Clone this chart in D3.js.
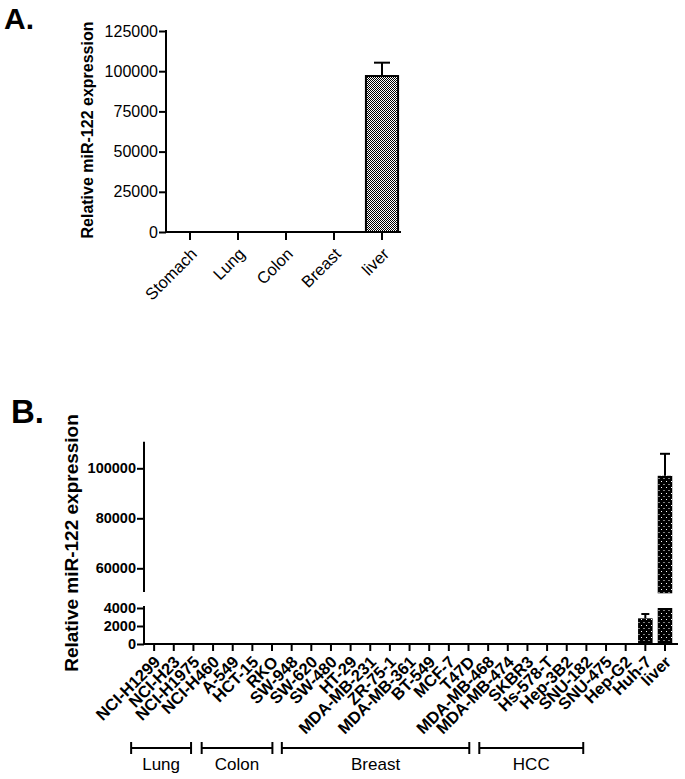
<!DOCTYPE html>
<html><head><meta charset="utf-8">
<script src="https://cdn.jsdelivr.net/npm/d3@7"></script>
<style>
body{margin:0;background:#fff;}
svg{display:block;font-family:"Liberation Sans",Arial,sans-serif;}
</style></head>
<body><svg id="c" width="685" height="779"></svg>
<script>
// ---- Panel A data ----
const tissuesA = ["Stomach","Lung","Colon","Breast","liver"];
const meanA = [0,0,0,0,97000];
const errA = [0,0,0,0,8300];
const ticksA = [0,25000,50000,75000,100000,125000];

// ---- Panel B data ----
const cellsB = ["NCI-H1299","NCI-H23","NCI-H1975","NCI-H460","A-549","HCT-15","RKO","SW-948","SW-620","SW-480","HT-29","MDA-MB-231","ZR-75-1","MDA-MB-361","BT-549","MCF-7","T47D","MDA-MB-468","MDA-MB-474","SKBR3","Hs-578-T","Hep-3B2","SNU-182","SNU-475","Hep-G2","Huh-7","liver"];
const meanB = [0,0,0,0,0,0,0,0,0,0,0,0,0,0,0,0,0,0,0,0,0,0,0,0,0,2850,97000];
const errB  = [0,0,0,0,0,0,0,0,0,0,0,0,0,0,0,0,0,0,0,0,0,0,0,0,0,480,8800];
const ticksBLow = [0,2000,4000];
const ticksBUp = [60000,80000,100000];
const groupNames = ["Lung","Colon","Breast","HCC"];
const groupFrom = [-1.17,2.42,6.5,16.55];   // in category-step units
const groupTo   = [1.88,6.02,16.04,21.84];

const svg = d3.select("#c");
const defs = svg.append("defs");
const pA = defs.append("pattern").attr("id","chk").attr("patternUnits","userSpaceOnUse").attr("width",2).attr("height",2);
pA.append("rect").attr("width",2).attr("height",2).attr("fill","#fff");
pA.append("rect").attr("width",1).attr("height",1).attr("fill","#000");
pA.append("rect").attr("x",1).attr("y",1).attr("width",1).attr("height",1).attr("fill","#000");
const pB = defs.append("pattern").attr("id","dot").attr("patternUnits","userSpaceOnUse").attr("width",5).attr("height",6);
pB.append("rect").attr("width",5).attr("height",6).attr("fill","#000");
pB.append("rect").attr("x",1).attr("y",1).attr("width",1).attr("height",1).attr("fill","#fff");
pB.append("rect").attr("x",3.5).attr("y",4).attr("width",1).attr("height",1).attr("fill","#fff");

// ================= Panel A =================
svg.append("text").attr("x",4).attr("y",29).attr("font-size",30).attr("font-weight","bold").text("A.");
const xA = d3.scaleBand().domain(tissuesA).range([166,406]).paddingInner(0.33).paddingOuter(0.165);
const yA = d3.scaleLinear().domain([0,125000]).range([232,31]);
const gA = svg.append("g");
gA.selectAll("rect.bar").data(tissuesA).join("rect")
  .attr("x",d=>xA(d)).attr("width",xA.bandwidth())
  .attr("y",(d,i)=>yA(meanA[i])).attr("height",(d,i)=>yA(0)-yA(meanA[i]))
  .attr("fill","url(#chk)").attr("stroke","#000").attr("stroke-width",(d,i)=>meanA[i]>0?2:0);
tissuesA.forEach((d,i)=>{
  if(errA[i]<=0) return;
  const cx = xA(d)+xA.bandwidth()/2;
  gA.append("line").attr("x1",cx).attr("x2",cx).attr("y1",yA(meanA[i])).attr("y2",yA(meanA[i]+errA[i])).attr("stroke","#000").attr("stroke-width",2);
  gA.append("line").attr("x1",cx-8).attr("x2",cx+8).attr("y1",yA(meanA[i]+errA[i])).attr("y2",yA(meanA[i]+errA[i])).attr("stroke","#000").attr("stroke-width",2);
});
const axA = d3.axisLeft(yA).tickValues(ticksA).tickSize(7).tickFormat(d3.format("d"));
const gyA = svg.append("g").attr("transform","translate(166,0)").call(axA);
gyA.select(".domain").attr("stroke-width",2).attr("d","M0,30V233");
gyA.selectAll(".tick line").attr("stroke-width",2);
gyA.selectAll(".tick text").attr("font-size",16).attr("fill","#000").attr("x",-8).attr("font-family","Liberation Sans,Arial,sans-serif");
const axXA = d3.axisBottom(xA).tickSize(8).tickFormat("");
const gxA = svg.append("g").attr("transform","translate(0,232)").call(axXA);
gxA.select(".domain").attr("stroke-width",2).attr("d","M165,0H401");
gxA.selectAll(".tick line").attr("stroke-width",2);
svg.append("g").selectAll("text").data(tissuesA).join("text")
  .attr("transform",d=>`translate(${xA(d)+xA.bandwidth()/2+4},${251}) rotate(-45)`)
  .attr("text-anchor","end").attr("dy","0.35em").attr("font-size",16.5).text(d=>d);
svg.append("text").attr("transform","translate(93,130) rotate(-90)").attr("text-anchor","middle")
  .attr("font-size",16).attr("font-weight","bold").text("Relative miR-122 expression");

// ================= Panel B =================
svg.append("text").attr("x",11).attr("y",423).attr("font-size",33).attr("font-weight","bold").text("B.");
const xB = d3.scaleBand().domain(cellsB).range([144.3,674.8]).paddingInner(0.26).paddingOuter(0.13);
const yUp = d3.scaleLinear().domain([50000,110000]).range([593.3,443.3]);
const yLo = d3.scaleLinear().domain([0,4000]).range([644,608]);
const gB = svg.append("g");
gB.selectAll("rect.lo").data(cellsB).join("rect").attr("class","lo")
  .attr("x",d=>xB(d)).attr("width",xB.bandwidth())
  .attr("y",(d,i)=>yLo(Math.min(meanB[i],4000))).attr("height",(d,i)=>yLo(0)-yLo(Math.min(meanB[i],4000)))
  .attr("fill","url(#dot)");
gB.selectAll("rect.up").data(cellsB.filter((d,i)=>meanB[i]>50000)).join("rect").attr("class","up")
  .attr("x",d=>xB(d)).attr("width",xB.bandwidth())
  .attr("y",d=>yUp(meanB[cellsB.indexOf(d)])).attr("height",d=>yUp(50000)-yUp(meanB[cellsB.indexOf(d)]))
  .attr("fill","url(#dot)");
cellsB.forEach((d,i)=>{
  if(errB[i]<=0) return;
  const cx = xB(d)+xB.bandwidth()/2;
  const sc = meanB[i]>50000 ? yUp : yLo;
  const top = sc(meanB[i]+errB[i]);
  const w = meanB[i]>50000 ? 5 : 4;
  gB.append("line").attr("x1",cx).attr("x2",cx).attr("y1",sc(meanB[i])).attr("y2",top).attr("stroke","#000").attr("stroke-width",2);
  gB.append("line").attr("x1",cx-w).attr("x2",cx+w).attr("y1",top).attr("y2",top).attr("stroke","#000").attr("stroke-width",2);
});
const gyUp = svg.append("g").attr("transform","translate(144,0)").call(d3.axisLeft(yUp).tickValues(ticksBUp).tickSize(7).tickFormat(d3.format("d")));
gyUp.select(".domain").attr("stroke-width",2).attr("d","M0,441.7V592");
const gyLo = svg.append("g").attr("transform","translate(144,0)").call(d3.axisLeft(yLo).tickValues(ticksBLow).tickSize(7).tickFormat(d3.format("d")));
gyLo.select(".domain").attr("stroke-width",2).attr("d","M0,606V645");
[gyUp,gyLo].forEach(g=>{
  g.selectAll(".tick line").attr("stroke-width",2);
  g.selectAll(".tick text").attr("font-size",14.5).attr("font-weight","bold").attr("fill","#000").attr("x",-8).attr("font-family","Liberation Sans,Arial,sans-serif");
});
const gxB = svg.append("g").attr("transform","translate(0,644)").call(d3.axisBottom(xB).tickSize(7).tickFormat(""));
gxB.select(".domain").attr("stroke-width",2).attr("d","M143,0H678");
gxB.selectAll(".tick line").attr("stroke-width",2);
svg.append("g").selectAll("text").data(cellsB).join("text")
  .attr("transform",d=>`translate(${xB(d)+xB.bandwidth()/2+3},${659}) rotate(-45)`)
  .attr("text-anchor","end").attr("dy","0.35em").attr("font-size",16.5).attr("font-weight","bold").text(d=>d);
svg.append("text").attr("transform","translate(78,543) rotate(-90)").attr("text-anchor","middle")
  .attr("font-size",19).attr("font-weight","bold").text("Relative miR-122 expression");
const pos = k => xB(cellsB[0]) + xB.bandwidth()/2 + k*xB.step();
const gG = svg.append("g");
groupNames.forEach((n,i)=>{
  const a = pos(groupFrom[i]), b = pos(groupTo[i]);
  gG.append("line").attr("x1",a).attr("x2",b).attr("y1",748).attr("y2",748).attr("stroke","#000").attr("stroke-width",2);
  gG.append("line").attr("x1",a).attr("x2",a).attr("y1",742).attr("y2",754).attr("stroke","#000").attr("stroke-width",2);
  gG.append("line").attr("x1",b).attr("x2",b).attr("y1",742).attr("y2",754).attr("stroke","#000").attr("stroke-width",2);
  gG.append("text").attr("x",(a+b)/2).attr("y",770).attr("text-anchor","middle").attr("font-size",17).text(n);
});
</script></body></html>
